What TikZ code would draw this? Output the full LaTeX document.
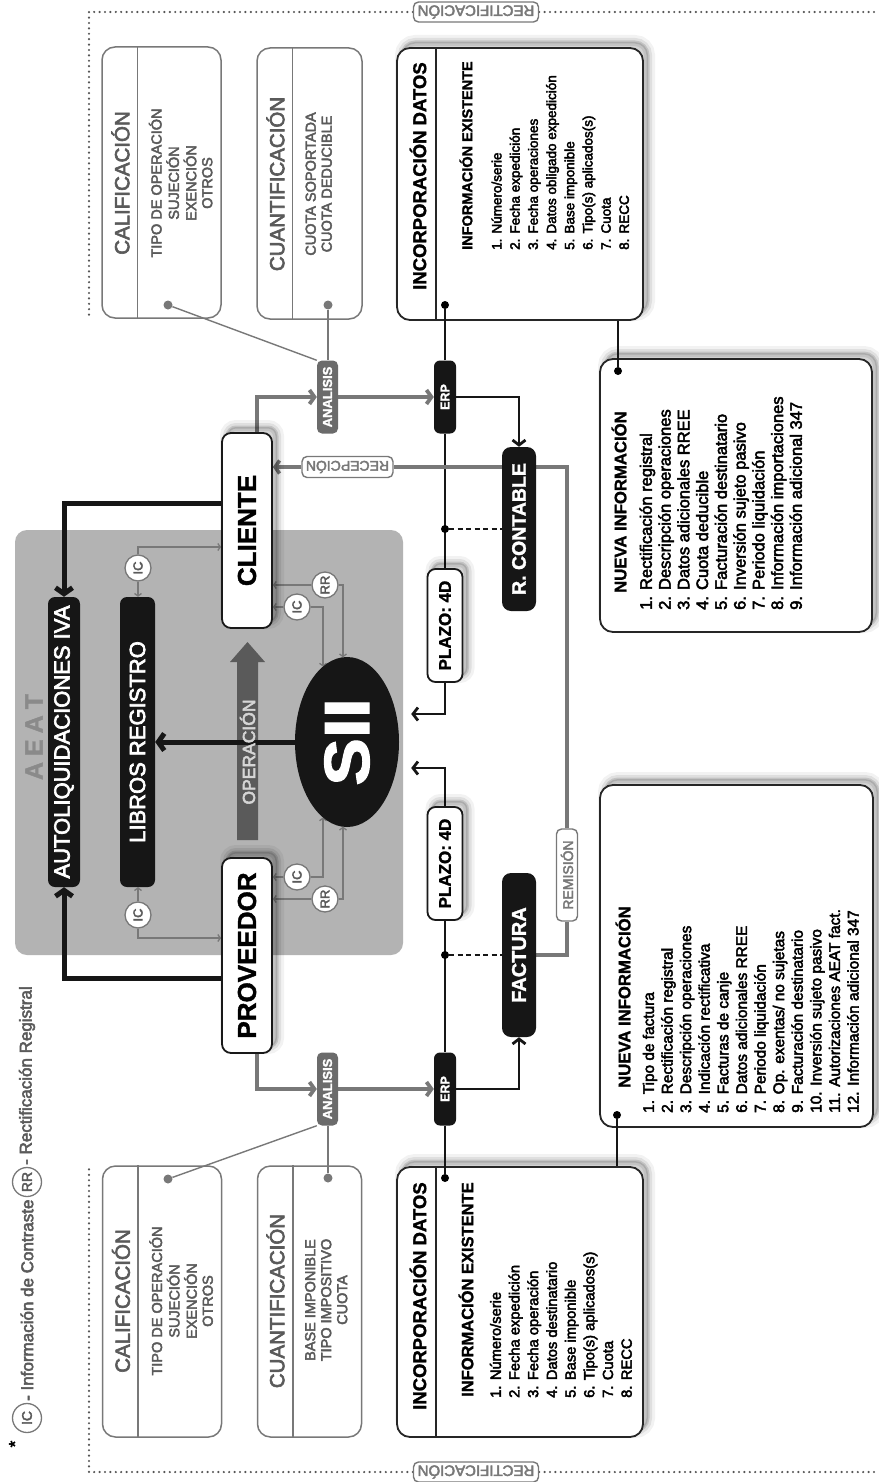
\documentclass[tikz,border=0pt]{standalone}
\usepackage{fontspec}
\setmainfont{Liberation Sans}[UprightFeatures={FakeBold=3},BoldFeatures={FakeBold=1.5}]
\usepackage{graphicx}
\usetikzlibrary{arrows.meta,calc,shapes.geometric}
\definecolor{aeatgray}{HTML}{B3B3B3}
\definecolor{aeattext}{HTML}{8A8A8A}
\definecolor{boxblack}{HTML}{161616}
\definecolor{anagray}{HTML}{6B6B6B}
\definecolor{linegray}{HTML}{787878}
\definecolor{textgray}{HTML}{5A5A5A}
\definecolor{opgray}{HTML}{5A5A5A}
\definecolor{optext}{HTML}{D5D5D5}
\definecolor{dotgray}{HTML}{555555}
\pgfdeclarelayer{back}
\pgfdeclarelayer{bg}
\pgfsetlayers{back,bg,main}
\newcommand\rot[1]{\rotatebox{90}{#1}}
\newcommand\fs[2]{\fontsize{#1}{#2}\selectfont}
\begin{document}
\begin{tikzpicture}[x=1pt,y=-1pt,
  blackbox/.style={fill=boxblack, rounded corners=7pt, inner sep=0pt, text=white},
  whitebox/.style={draw=black!90, line width=1.8pt, fill=white, rounded corners=9pt, inner sep=0pt},
  infobox/.style={draw=black!85, line width=1.8pt, fill=white, rounded corners=13pt, inner sep=0pt},
  catbox/.style={draw=linegray, line width=1.5pt, rounded corners=13pt, inner sep=0pt},
  catdiv/.style={draw=linegray, line width=1.5pt},
  incdiv/.style={draw=black!85, line width=1.6pt},
  tagbox/.style={draw=linegray, line width=1.4pt, fill=white, rounded corners=5pt, inner sep=0pt, text=linegray},
  anabox/.style={fill=anagray, rounded corners=5pt, inner sep=0pt, text=white},
  circ/.style={circle, draw=linegray, line width=1.3pt, fill=white, minimum size=26pt, inner sep=0pt, text=textgray},
  txt/.style={inner sep=0pt},
  blackdot/.style={circle, fill=black, minimum size=8pt, inner sep=0pt},
  graydot/.style={circle, fill=linegray, minimum size=9pt, inner sep=0pt},
  softshadow/.style={
    preaction={draw=black, draw opacity=0.05, line width=14pt, fill=none, transform canvas={shift={(5pt,6pt)}}},
    preaction={draw=black, draw opacity=0.08, line width=8pt, fill=none, transform canvas={shift={(5pt,6pt)}}},
    preaction={draw=black, draw opacity=0.12, line width=3pt, fill=black, fill opacity=0.12, transform canvas={shift={(5pt,6pt)}}}},
  bigarrow/.style={draw=boxblack, line width=5pt, -{Straight Barb[length=6pt,width=17pt]}},
  blkline/.style={draw=boxblack, line width=2.8pt},
  blkarrow/.style={draw=boxblack, line width=2.8pt, -{Straight Barb[length=5pt,width=13pt]}},
  grayarrow/.style={draw=linegray, line width=3.8pt, -{Straight Barb[length=5pt,width=14pt]}},
  loopline/.style={draw=linegray, line width=3.6pt},
  thinarrow/.style={draw=linegray, line width=1.3pt, -{Straight Barb[length=2.5pt,width=7pt]}},
  thinline/.style={draw=linegray, line width=1.4pt},
  dashline/.style={draw=boxblack, line width=2pt, dash pattern=on 5pt off 3.5pt},
  dotline/.style={draw=dotgray, line width=2.4pt, dash pattern=on 0pt off 5.4pt, line cap=round},
]
\useasboundingbox (0,0) rectangle (878,1482);
\begin{pgfonlayer}{back}
  \fill[white] (0,0) rectangle (878,1482);
  \node[fill=aeatgray, rounded corners=12pt, minimum width=388pt, minimum height=425pt, inner sep=0pt] (aeat) at (209,742.5) {};
  \fill[opgray] (237,840) -- (237,662) -- (230,662) -- (247.5,642) -- (265,662) -- (258,662) -- (258,840) -- cycle;
\end{pgfonlayer}

% ---------- legend
\node[txt] (ast) at (15,1444) {\rot{\fs{17}{17}*}};
\node[circ, minimum size=29pt] (legIC) at (27,1418) {\rot{\fs{14}{14}IC}};
\node[txt, anchor=south, text=textgray] (legICt) at (27,1401) {\rot{\fs{17}{17}- Información de Contraste}};
\node[circ, minimum size=29pt] (legRR) at (27,1182) {\rot{\fs{14}{14}RR}};
\node[txt, anchor=south, text=textgray] (legRRt) at (27,1165) {\rot{\fs{17}{17}- Rectificación Registral}};

% ---------- AEAT block
\node[txt, text=aeattext] (aeatlbl) at (34,737) {\rot{\fs{25}{25}\bfseries A\hspace{6pt}E\hspace{6pt}A\hspace{6pt}T}};
\node[blackbox, minimum width=32pt, minimum height=290pt] (autoliq) at (64,742) {\rot{\fs{22}{22}AUTOLIQUIDACIONES IVA}};
\node[blackbox, minimum width=35pt, minimum height=290pt] (libros) at (137.5,742) {\rot{\fs{22}{22}LIBROS REGISTRO}};
\node[whitebox, softshadow, minimum width=50pt, minimum height=195pt] (cliente) at (247,530.5) {\rot{\fs{26}{26}\bfseries CLIENTE}};
\node[whitebox, softshadow, minimum width=50pt, minimum height=195pt] (proveedor) at (247,955.5) {\rot{\fs{26}{26}\bfseries PROVEEDOR}};
\node[ellipse, fill=boxblack, minimum width=104pt, minimum height=170pt, inner sep=0pt, text=white] (sii) at (347,742) {\rot{\fs{64}{64}\bfseries\scalebox{1.12}[1]{SII}}};
\node[txt, text=optext] (oper) at (247.5,752) {\rot{\fs{17.5}{17.5}OPERACIÓN}};

\node[circ] (icL1) at (138,568) {\rot{\fs{13}{13}IC}};
\node[circ] (icL2) at (138,915) {\rot{\fs{13}{13}IC}};
\node[circ] (icC) at (297,607) {\rot{\fs{13}{13}IC}};
\node[circ] (rrC) at (325,585) {\rot{\fs{13}{13}RR}};
\node[circ] (icP) at (297,877) {\rot{\fs{13}{13}IC}};
\node[circ] (rrP) at (325,899) {\rot{\fs{13}{13}RR}};

% ---------- middle column
\node[anabox, minimum width=21pt, minimum height=73pt] (anT) at (327.5,397) {\rot{\fs{13}{13}\bfseries ANALISIS}};
\node[anabox, minimum width=21pt, minimum height=73pt] (anB) at (327.5,1089) {\rot{\fs{13}{13}\bfseries ANALISIS}};
\node[blackbox, rounded corners=6pt, minimum width=22pt, minimum height=73pt] (erpT) at (445,397) {\rot{\fs{12.5}{12.5}\bfseries ERP}};
\node[blackbox, rounded corners=6pt, minimum width=22pt, minimum height=73pt] (erpB) at (445,1089) {\rot{\fs{12.5}{12.5}\bfseries ERP}};
\node[whitebox, softshadow, rounded corners=8pt, minimum width=35pt, minimum height=113pt] (plT) at (445,625.5) {\rot{\fs{17}{17}\bfseries PLAZO: 4D}};
\node[whitebox, softshadow, rounded corners=8pt, minimum width=35pt, minimum height=113pt] (plB) at (445,863.5) {\rot{\fs{17}{17}\bfseries PLAZO: 4D}};
\node[blackbox, rounded corners=9pt, minimum width=34pt, minimum height=164pt] (rcont) at (519,529) {\rot{\fs{19.5}{19.5}\bfseries R. CONTABLE}};
\node[blackbox, rounded corners=9pt, minimum width=34pt, minimum height=164pt] (factura) at (519,955) {\rot{\fs{20}{20}\bfseries FACTURA}};
\node[blackdot] (dotA) at (445,529) {};
\node[blackdot] (dotB) at (445,955) {};
\node[tagbox, minimum width=21pt, minimum height=92pt] (remis) at (567,875) {\rot{\fs{14}{14}REMISIÓN}};
\node[tagbox, minimum width=91pt, minimum height=21pt] (recep) at (347.5,467) {\rotatebox{180}{\fs{14}{14}RECEPCIÓN}};
\node[tagbox, minimum width=125pt, minimum height=20pt] (rectT) at (476,12) {\rotatebox{180}{\fs{15}{15}RECTIFICACIÓN}};
\node[tagbox, minimum width=125pt, minimum height=20pt] (rectB) at (476,1472) {\rotatebox{180}{\fs{15}{15}RECTIFICACIÓN}};

% ---------- calificacion / cuantificacion
\node[catbox, minimum width=119pt, minimum height=271pt] (calT) at (161.5,182.5) {};
\node[catbox, minimum width=105pt, minimum height=271pt] (cuaT) at (309.5,183.5) {};
\node[catbox, minimum width=119pt, minimum height=271pt] (calB) at (162,1301.5) {};
\node[catbox, minimum width=104pt, minimum height=271pt] (cuaB) at (309.5,1301.5) {};
\draw[catdiv] ([xshift=36pt]calT.north west) -- ([xshift=36pt]calT.south west);
\draw[catdiv] ([xshift=36pt]cuaT.north west) -- ([xshift=36pt]cuaT.south west);
\draw[catdiv] ([xshift=36pt]calB.north west) -- ([xshift=36pt]calB.south west);
\draw[catdiv] ([xshift=36pt]cuaB.north west) -- ([xshift=36pt]cuaB.south west);
\node[txt, text=textgray] (calTh) at (120.5,183) {\rot{\fs{20.5}{20.5}CALIFICACIÓN}};
\node[txt, text=textgray] (calTb) at (183,183) {\rot{\fs{14.5}{16}\begin{tabular}{@{}c@{}}TIPO DE OPERACIÓN\\SUJECIÓN\\EXENCIÓN\\OTROS\end{tabular}}};
\node[txt, text=textgray] (cuaTh) at (275.5,184) {\rot{\fs{20.5}{20.5}CUANTIFICACIÓN}};
\node[txt, text=textgray] (cuaTb) at (320.5,184) {\rot{\fs{14.5}{16}\begin{tabular}{@{}c@{}}CUOTA SOPORTADA\\CUOTA DEDUCIBLE\end{tabular}}};
\node[txt, text=textgray] (calBh) at (121,1301) {\rot{\fs{20.5}{20.5}CALIFICACIÓN}};
\node[txt, text=textgray] (calBb) at (183.5,1301) {\rot{\fs{14.5}{16}\begin{tabular}{@{}c@{}}TIPO DE OPERACIÓN\\SUJECIÓN\\EXENCIÓN\\OTROS\end{tabular}}};
\node[txt, text=textgray] (cuaBh) at (275.5,1301) {\rot{\fs{20.5}{20.5}CUANTIFICACIÓN}};
\node[txt, text=textgray] (cuaBb) at (328,1300) {\rot{\fs{14.5}{16}\begin{tabular}{@{}c@{}}BASE IMPONIBLE\\TIPO IMPOSITIVO\\CUOTA\end{tabular}}};
\node[graydot] (dC1) at (168,305) {};
\node[graydot] (dQ1) at (328,305) {};
\node[graydot] (dC2) at (168,1179) {};
\node[graydot] (dQ2) at (328,1178) {};

% ---------- incorporacion datos
\node[infobox, softshadow, minimum width=246pt, minimum height=272pt] (incT) at (520,184) {};
\node[infobox, softshadow, minimum width=246pt, minimum height=270pt] (incB) at (520,1302) {};
\draw[incdiv] ([xshift=40pt]incT.north west) -- ([xshift=40pt]incT.south west);
\draw[incdiv] ([xshift=40pt]incB.north west) -- ([xshift=40pt]incB.south west);
\node[txt, anchor=south] (incTh) at (418,290) {\rot{\fs{18.5}{18.5}\bfseries INCORPORACIÓN DATOS}};
\node[txt, anchor=south] (incTs) at (466,250) {\rot{\fs{14.5}{14.5}\bfseries INFORMACIÓN EXISTENTE}};
\node[txt, anchor=south] (incTl) at (561.5,250) {\rot{\fs{13.5}{18.2}\begin{tabular}{@{}l@{}}1. Número/serie\\2. Fecha expedición\\3. Fecha operaciones\\4. Datos obligado expedición\\5. Base imponible\\6. Tipo(s) aplicados(s)\\7. Cuota\\8. RECC\end{tabular}}};
\node[txt, anchor=south] (incBh) at (418,1410) {\rot{\fs{18.5}{18.5}\bfseries INCORPORACIÓN DATOS}};
\node[txt, anchor=south] (incBs) at (466,1397) {\rot{\fs{16.5}{16.5}\bfseries INFORMACIÓN EXISTENTE}};
\node[txt, anchor=south] (incBl) at (562.5,1398) {\rot{\fs{14.7}{18.7}\begin{tabular}{@{}l@{}}1. Número/serie\\2. Fecha expedición\\3. Fecha operación\\4. Datos destinatario\\5. Base imponible\\6. Tipo(s) aplicados(s)\\7. Cuota\\8. RECC\end{tabular}}};
\node[blackdot] (dotI1) at (445,305) {};
\node[blackdot] (dotI2) at (445,1178) {};

% ---------- nueva informacion
\node[infobox, softshadow, minimum width=272pt, minimum height=273pt] (nuT) at (736,495.5) {};
\node[infobox, softshadow, minimum width=273pt, minimum height=342pt] (nuB) at (736.5,956) {};
\node[txt, anchor=south] (nuTh) at (619,593) {\rot{\fs{16.7}{16.7}\bfseries NUEVA INFORMACIÓN}};
\node[txt, anchor=south] (nuTl) at (723,610) {\rot{\fs{16.5}{18.75}\begin{tabular}{@{}l@{}}1. Rectificación registral\\2. Descripción operaciones\\3. Datos adicionales RREE\\4. Cuota deducible\\5. Facturación destinatario\\6. Inversión sujeto pasivo\\7. Periodo liquidación\\8. Información importaciones\\9. Información adicional 347\end{tabular}}};
\node[txt, anchor=south] (nuBh) at (623,1088) {\rot{\fs{16.7}{16.7}\bfseries NUEVA INFORMACIÓN}};
\node[txt, anchor=south] (nuBl) at (752.5,1113) {\rot{\fs{15.4}{18.6}\begin{tabular}{@{}l@{}}1. Tipo de factura\\2. Rectificación registral\\3. Descripción operaciones\\4. Indicación rectificativa\\5. Facturas de canje\\6. Datos adicionales RREE\\7. Periodo liquidación\\8. Op. exentas/ no sujetas\\9. Facturación destinatario\\10. Inversión sujeto pasivo\\11. Autorizaciones AEAT fact.\\12. Información adicional 347\end{tabular}}};
\node[blackdot] (dotN1) at (618,371) {};
\node[blackdot] (dotN2) at (617,1115) {};

% ---------- helper coordinates
\coordinate (k1) at (0,547);
\coordinate (k2) at (0,938);
\coordinate (s1) at ($(sii.center)+(-24,-75.4)$);
\coordinate (s2) at ($(sii.center)+(-4,-84.7)$);
\coordinate (s5) at ($(sii.center)+(-24,75.4)$);
\coordinate (s6) at ($(sii.center)+(-4,84.7)$);
\coordinate (s3) at ($(sii.east)+(12,-28)$);
\coordinate (s4) at ($(sii.east)+(12,26)$);
\coordinate (fTL) at (89,12);
\coordinate (fTR) at (878,12);
\coordinate (fTD) at (89,317);
\coordinate (fBL) at (89,1472);
\coordinate (fBR) at (878,1472);
\coordinate (fBU) at (89,1167);

% ---------- connectors (below nodes)
\begin{pgfonlayer}{bg}
  \draw[dotline] (rectT.west) -- (fTL) -- (fTD);
  \draw[dotline] (rectT.east) -- (fTR);
  \draw[dotline] (rectB.west) -- (fBL) -- (fBU);
  \draw[dotline] (rectB.east) -- (fBR);

  \draw[bigarrow] ([yshift=27.5pt]cliente.west) -| (autoliq.north);
  \draw[bigarrow] ([yshift=-22.5pt]proveedor.west) -| (autoliq.south);
  \draw[bigarrow] (sii.west) -- (libros.east);

  \draw[thinarrow] (icL1) -- (icL1 |- libros.north);
  \draw[thinarrow] (icL1.north) |- (cliente.west |- k1);
  \draw[thinarrow] (icL2) -- (icL2 |- libros.south);
  \draw[thinarrow] (icL2.south) |- (proveedor.west |- k2);
  \draw[thinarrow] (icC) -- (cliente.east |- icC);
  \draw[thinarrow] (icC) -| (s1);
  \draw[thinarrow] (rrC) -- (cliente.east |- rrC);
  \draw[thinarrow] (rrC) -| (s2);
  \draw[thinarrow] (icP) -- (proveedor.east |- icP);
  \draw[thinarrow] (icP) -| (s5);
  \draw[thinarrow] (rrP) -- (proveedor.east |- rrP);
  \draw[thinarrow] (rrP) -| (s6);

  \draw[grayarrow] ([xshift=10pt]cliente.north) |- (anT.west);
  \draw[grayarrow] (anT.east) -- (erpT.west);
  \draw[grayarrow] ([xshift=10pt]proveedor.south) |- (anB.west);
  \draw[grayarrow] (anB.east) -- (erpB.west);

  \draw[blkline] (erpT.south) -- (plT.north);
  \draw[blkline] (plB.south) -- (erpB.north);
  \draw[blkarrow] (plT.south) |- (s3);
  \draw[blkarrow] (plB.north) |- (s4);
  \draw[blkarrow] (erpT.east) -| (rcont.north);
  \draw[blkarrow] (erpB.east) -| (factura.south);
  \draw[dashline] (dotA) -- (rcont.west);
  \draw[dashline] (dotB) -- (factura.west);

  \draw[loopline] (factura.east) -| (remis);
  \draw[loopline] (remis) |- (recep);
  \draw[loopline, -{Straight Barb[length=4.5pt,width=13pt]}] (recep) -- (cliente.east |- recep);
\end{pgfonlayer}

% ---------- connectors ending inside boxes
\draw[blkline] (erpT.north) -- (dotI1);
\draw[blkline] (erpB.south) -- (dotI2);
\draw[draw=boxblack, line width=1.5pt] (dotN1) -- (dotN1 |- incT.south);
\draw[draw=boxblack, line width=1.5pt] (dotN2) -- (dotN2 |- incB.north);
\draw[thinline] (dC1) -- (anT.north west);
\draw[thinline] (dQ1) -- (dQ1 |- anT.north);
\draw[thinline] (dC2) -- (anB.south west);
\draw[thinline] (dQ2) -- (dQ2 |- anB.south);
\end{tikzpicture}
\end{document}
